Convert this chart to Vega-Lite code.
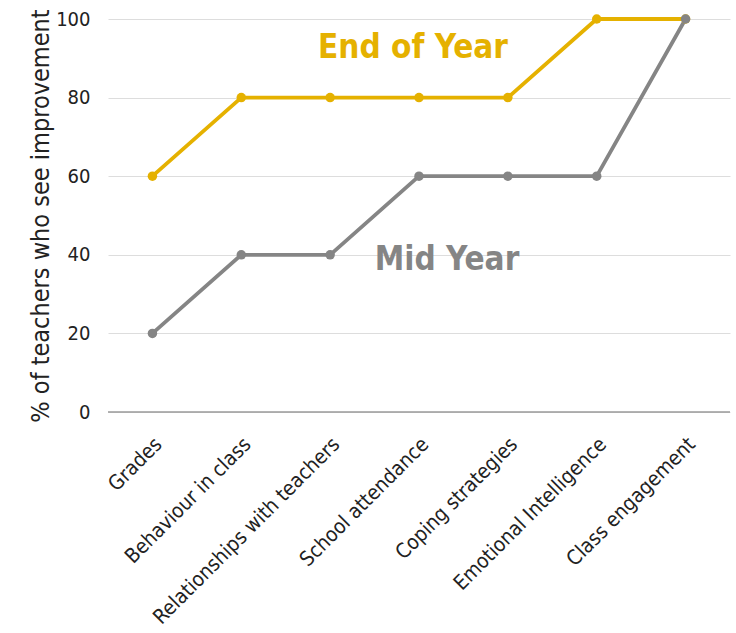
{
  "$schema": "https://vega.github.io/schema/vega-lite/v6.json",
  "autosize": "none",
  "width": 622,
  "height": 393,
  "padding": {"left": 108, "top": 19, "right": 6, "bottom": 221},
  "background": "white",
  "config": {"view": {"stroke": null}, "font": "DejaVu Sans Condensed"},
  "datasets": {
    "series": [
      {"category": "Grades", "series": "End of Year", "value": 60},
      {"category": "Behaviour in class", "series": "End of Year", "value": 80},
      {"category": "Relationships with teachers", "series": "End of Year", "value": 80},
      {"category": "School attendance", "series": "End of Year", "value": 80},
      {"category": "Coping strategies", "series": "End of Year", "value": 80},
      {"category": "Emotional Intelligence", "series": "End of Year", "value": 100},
      {"category": "Class engagement", "series": "End of Year", "value": 100},
      {"category": "Grades", "series": "Mid Year", "value": 20},
      {"category": "Behaviour in class", "series": "Mid Year", "value": 40},
      {"category": "Relationships with teachers", "series": "Mid Year", "value": 40},
      {"category": "School attendance", "series": "Mid Year", "value": 60},
      {"category": "Coping strategies", "series": "Mid Year", "value": 60},
      {"category": "Emotional Intelligence", "series": "Mid Year", "value": 60},
      {"category": "Class engagement", "series": "Mid Year", "value": 100}
    ],
    "labels": [
      {"category": "School attendance", "series": "End of Year", "value": 92.6, "offset": -6},
      {"category": "School attendance", "series": "Mid Year", "value": 38.7, "offset": 28}
    ]
  },
  "layer": [
    {
      "data": {"name": "series"},
      "mark": {"type": "line", "strokeWidth": 3.8, "point": {"size": 90, "filled": true, "opacity": 1}},
      "encoding": {
        "x": {
          "field": "category", "type": "ordinal", "sort": null,
          "scale": {"type": "point", "padding": 0.5},
          "axis": {
            "title": null, "labelAngle": -45, "labelAlign": "right", "labelBaseline": "middle",
            "labelFontSize": 20.5, "labelColor": "#222", "labelPadding": 29, "labelOffset": 6, "ticks": false,
            "domain": false, "grid": false, "labelLimit": 400
          }
        },
        "y": {
          "field": "value", "type": "quantitative",
          "scale": {"domain": [0, 100]},
          "axis": {
            "title": "% of teachers who see improvement", "titleFontSize": 25, "titleFontWeight": "normal",
            "titleColor": "#222", "titlePadding": 2,
            "values": [0, 20, 40, 60, 80, 100], "labelFontSize": 20, "labelColor": "#222", "labelPadding": 18,
            "ticks": false, "domain": false, "gridColor": "#dddddd", "gridWidth": 1.2
          }
        },
        "color": {
          "field": "series", "type": "nominal",
          "scale": {"domain": ["End of Year", "Mid Year"], "range": ["#E5B100", "#858585"]},
          "legend": null
        }
      }
    },
    {
      "data": {"values": [{"v": 0}]},
      "mark": {"type": "rule", "color": "#9a9a9a", "strokeWidth": 1.5},
      "encoding": {"y": {"field": "v", "type": "quantitative"}}
    },
    {
      "data": {"name": "labels"},
      "mark": {"type": "text", "fontSize": 33, "fontWeight": "bold", "font": "DejaVu Sans Condensed", "align": "center", "baseline": "middle"},
      "encoding": {
        "x": {"field": "category", "type": "ordinal", "sort": null},
        "y": {"field": "value", "type": "quantitative"},
        "xOffset": {"field": "offset", "type": "quantitative", "scale": null},
        "text": {"field": "series"},
        "color": {"field": "series", "type": "nominal", "legend": null}
      }
    }
  ]
}
